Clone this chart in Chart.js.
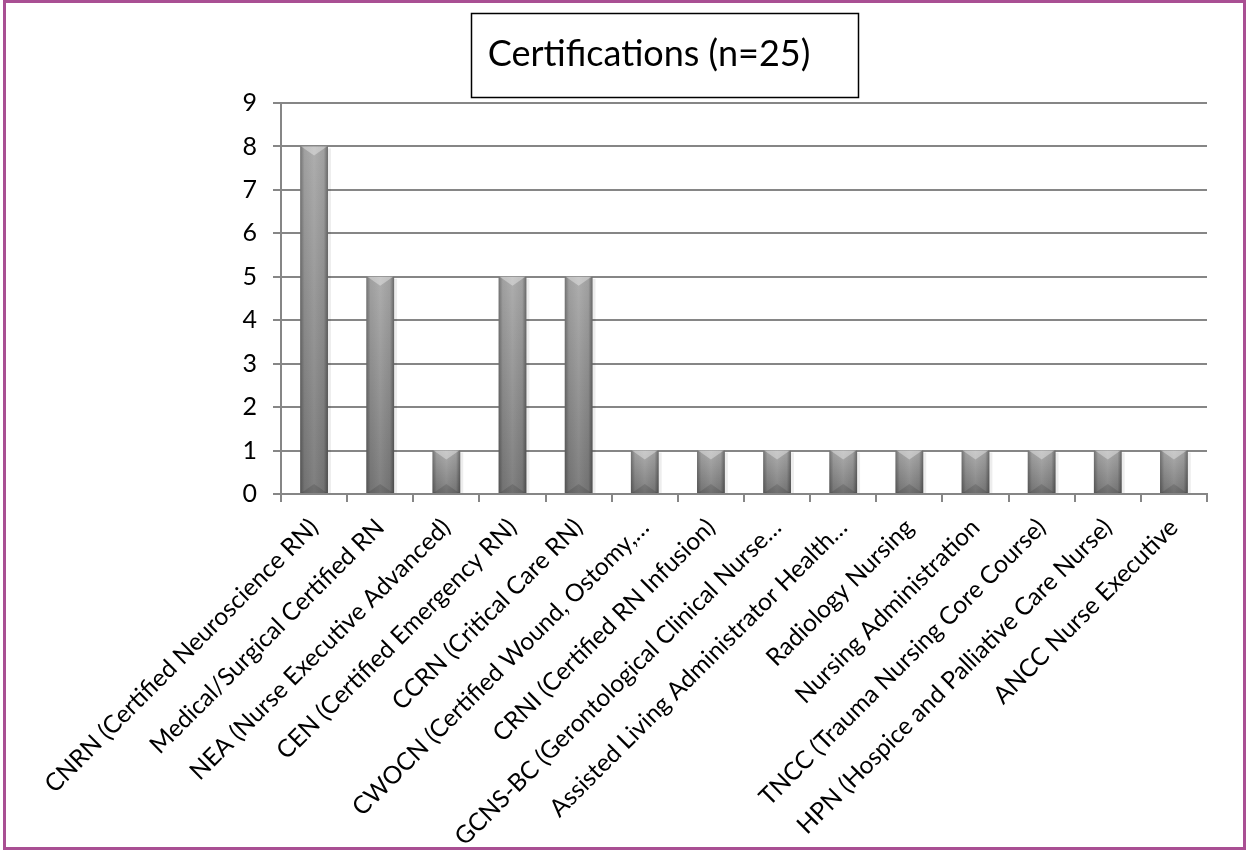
<!DOCTYPE html>
<html>
<head>
<meta charset="utf-8">
<script src="https://cdn.jsdelivr.net/npm/chart.js@4/dist/chart.umd.min.js"></script>
<style>
  html, body { margin: 0; padding: 0; background: #fff; }
  #wrap { position: relative; width: 1250px; height: 851px; }
  #frame { position: absolute; left: 3px; top: 0; width: 1237px; height: 844px; border: 3px solid #a94f93; pointer-events: none; }
</style>
</head>
<body>
<div id="wrap">
  <canvas id="chart" width="1250" height="851"></canvas>
  <div id="frame"></div>
</div>
<script>
const titleText = 'Certifications (n=25)';

const categories = [
    'CNRN (Certified Neuroscience RN)',
    'Medical/Surgical Certified RN',
    'NEA (Nurse Executive Advanced)',
    'CEN (Certified Emergency RN)',
    'CCRN (Critical Care RN)',
    'CWOCN (Certified Wound, Ostomy,…',
    'CRNI (Certified RN Infusion)',
    'GCNS-BC (Gerontological Clinical Nurse…',
    'Assisted Living Administrator Health…',
    'Radiology Nursing',
    'Nursing Administration',
    'TNCC (Trauma Nursing Core Course)',
    'HPN (Hospice and Palliative Care Nurse)',
    'ANCC Nurse Executive'
];

const counts = [8, 5, 1, 5, 5, 1, 1, 1, 1, 1, 1, 1, 1, 1];

const yTicks = [0, 1, 2, 3, 4, 5, 6, 7, 8, 9];

const gridColor = '#868686';
const fontFamily = 'Lato, "Open Sans", sans-serif';

// vertical gradient for each bar, light at top and darker at the base
function barFill(context) {
    const chart = context.chart;
    const yScale = chart.scales.y;
    if (!yScale || context.parsed === undefined) return '#8c8c8c';
    const top = yScale.getPixelForValue(context.parsed.y);
    const bottom = yScale.getPixelForValue(0);
    if (!isFinite(top) || !isFinite(bottom) || top === bottom) return '#8c8c8c';
    const g = chart.ctx.createLinearGradient(0, top, 0, bottom);
    g.addColorStop(0, '#a9a9a9');
    g.addColorStop(1, '#777777');
    return g;
}

// rounded look: darker sides plus light / dark chevrons at the ends
const bevelPlugin = {
    id: 'bevel',
    afterDatasetsDraw(chart) {
        const ctx = chart.ctx;
        chart.getDatasetMeta(0).data.forEach(bar => {
            const w = bar.width;
            const left = bar.x - w / 2;
            const right = bar.x + w / 2;
            const top = bar.y;
            const bottom = bar.base;
            ctx.save();
            // soft shadow on the right
            ctx.fillStyle = 'rgba(0,0,0,0.07)';
            ctx.fillRect(right, top + 2, 3, bottom - top - 2);
            const h = ctx.createLinearGradient(left, 0, right, 0);
            h.addColorStop(0, 'rgba(0,0,0,0.32)');
            h.addColorStop(0.15, 'rgba(0,0,0,0.05)');
            h.addColorStop(0.5, 'rgba(255,255,255,0.06)');
            h.addColorStop(0.85, 'rgba(0,0,0,0.05)');
            h.addColorStop(1, 'rgba(0,0,0,0.38)');
            ctx.fillStyle = h;
            ctx.fillRect(left, top, w, bottom - top);
            const d = Math.min(9, (bottom - top) / 3);
            ctx.fillStyle = 'rgba(255,255,255,0.35)';
            ctx.beginPath();
            ctx.moveTo(left + 1, top);
            ctx.lineTo(right - 1, top);
            ctx.lineTo(bar.x, top + d);
            ctx.closePath();
            ctx.fill();
            ctx.fillStyle = 'rgba(0,0,0,0.12)';
            ctx.beginPath();
            ctx.moveTo(left + 1, bottom);
            ctx.lineTo(right - 1, bottom);
            ctx.lineTo(bar.x, bottom - d);
            ctx.closePath();
            ctx.fill();
            ctx.restore();
        });
    }
};

// boxed title above the plot
const titleBoxPlugin = {
    id: 'titleBox',
    afterDraw(chart) {
        const ctx = chart.ctx;
        ctx.save();
        ctx.strokeStyle = '#000';
        ctx.lineWidth = 1.5;
        ctx.strokeRect(471.5, 13.5, 387, 84);
        ctx.fillStyle = '#000';
        ctx.font = '36px ' + fontFamily;
        ctx.textAlign = 'center';
        ctx.textBaseline = 'middle';
        ctx.fillText(titleText, 649, 54);
        ctx.restore();
    }
};

new Chart(document.getElementById('chart'), {
    type: 'bar',
    data: {
        labels: categories,
        datasets: [{
            data: counts,
            backgroundColor: barFill,
            borderWidth: 0,
            barPercentage: 0.42,
            categoryPercentage: 1.0
        }]
    },
    options: {
        responsive: false,
        animation: false,
        layout: { padding: { top: 103, right: 43, bottom: 0, left: 0 } },
        plugins: {
            legend: { display: false },
            title: { display: false },
            tooltip: { enabled: false }
        },
        scales: {
            x: {
                offset: true,
                grid: {
                    display: true,
                    drawOnChartArea: false,
                    drawTicks: true,
                    tickLength: 8,
                    color: gridColor,
                    lineWidth: 2,
                    offset: true
                },
                border: { color: gridColor, width: 2 },
                ticks: {
                    color: '#000',
                    font: { family: fontFamily, size: 24.5 },
                    minRotation: 45,
                    maxRotation: 45,
                    autoSkip: false,
                    padding: 11
                },
                afterFit(scale) { scale.height = 357; }
            },
            y: {
                min: 0,
                max: 9,
                afterBuildTicks(scale) { scale.ticks = yTicks.map(v => ({ value: v })); },
                grid: {
                    color: gridColor,
                    lineWidth: 2,
                    tickLength: 8
                },
                border: { color: gridColor, width: 2 },
                ticks: {
                    color: '#000',
                    font: { family: fontFamily, size: 25 },
                    padding: 16
                },
                afterFit(scale) { scale.width = 281; }
            }
        }
    },
    plugins: [bevelPlugin, titleBoxPlugin]
});
</script>
</body>
</html>
